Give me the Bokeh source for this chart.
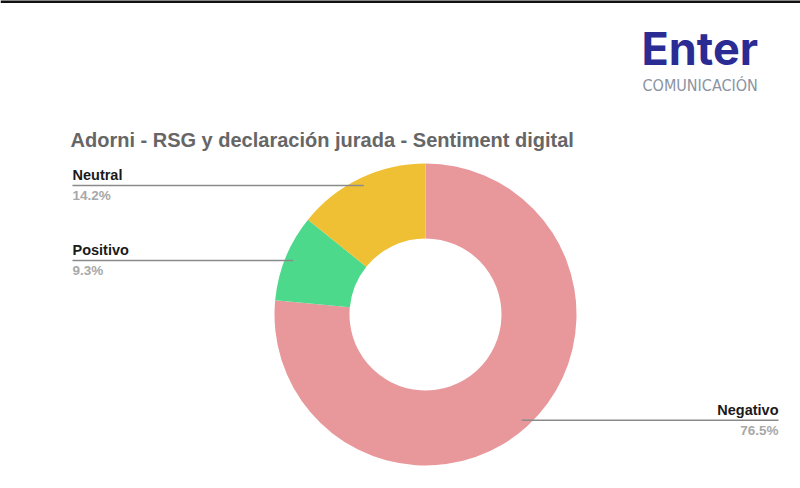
import math
from bokeh.plotting import figure
from bokeh.models import Range1d, ColumnDataSource, Span
from bokeh.core.properties import value
from bokeh.embed import file_html
from bokeh.resources import INLINE

W, H = 800, 488

title = "Adorni - RSG y declaración jurada - Sentiment digital"
categories = ["Negativo", "Positivo", "Neutral"]
shares = [76.5, 9.3, 14.2]
pct_labels = ["76.5%", "9.3%", "14.2%"]
colors = ["#E8979A", "#4DD98B", "#F0C034"]
label_side = ["right", "left", "left"]

# layout (pixels, y measured from top)
CX, CY = 425, 314
R_OUT, R_IN, R_LEAD = 151, 76, 143
LEFT_X, RIGHT_X = 72, 778
BASE_SHIFT = 0.37  # svg baseline correction (fraction of font size)

p = figure(width=W, height=H, x_range=Range1d(0, W), y_range=Range1d(0, H),
           output_backend="svg", toolbar_location=None, min_border=0)
p.axis.visible = False
p.grid.visible = False
p.outline_line_color = None
p.background_fill_color = "white"

def Y(ypx):
    return H - ypx

def txt(x, baseline_px, s, size, color, bold=False, align="left", font="Liberation Sans"):
    p.text(x=[x], y=[Y(baseline_px - BASE_SHIFT * size)], text=[s],
           text_font=value(font), text_font_style="bold" if bold else "normal",
           text_font_size=f"{size}px", text_color=color,
           text_align=align, text_baseline="alphabetic")

total = sum(shares)
starts, ends, mids = [], [], []
cum = 0.0
for s in shares:
    a0 = math.pi / 2 - 2 * math.pi * cum / total
    cum += s
    a1 = math.pi / 2 - 2 * math.pi * cum / total
    starts.append(a0)
    ends.append(a1)
    mids.append((a0 + a1) / 2)

src = ColumnDataSource(dict(x=[CX] * 3, y=[Y(CY)] * 3, start=starts, end=ends,
                            color=colors))
p.annular_wedge(x="x", y="y", inner_radius=R_IN, outer_radius=R_OUT,
                start_angle="start", end_angle="end", direction="clock",
                fill_color="color", line_color=None, source=src)

# leader lines and labels
for cat, pct, m, side in zip(categories, pct_labels, mids, label_side):
    ex = CX + R_LEAD * math.cos(m)
    ey_px = CY - R_LEAD * math.sin(m)
    tx = LEFT_X if side == "left" else RIGHT_X
    p.line([tx, ex], [Y(ey_px), Y(ey_px)], line_color="#8a8a8a", line_width=1.5)
    align = "left" if side == "left" else "right"
    txt(tx, ey_px - 5, cat, 14.5, "#1a1a1a", bold=True, align=align)
    txt(tx, ey_px + 15, pct, 13.5, "#a8a8a8", bold=True, align=align)

# title
txt(70, 147, title, 20, "#666666", bold=True)

# logo
txt(641, 65, "Enter", 45, "#2A2C94", bold=True, font="Inter")
txt(642, 91, "COMUNICACIÓN", 16, "#8C93A3", font="DejaVu Sans Condensed")

# top border line
p.add_layout(Span(location=Y(1), dimension="width", line_color="#111111", line_width=3))

open("out.html", "w").write(file_html(p, INLINE))
